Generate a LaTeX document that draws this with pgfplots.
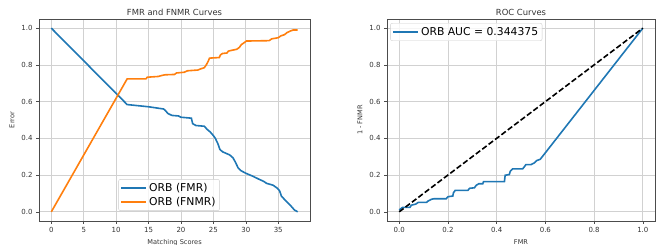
\documentclass[border=0pt]{standalone}
\usepackage{pgfplots}
\pgfplotsset{compat=1.18}
\usepackage{fontspec}
\setmainfont{DejaVu Sans}
\definecolor{mblue}{HTML}{1F77B4}
\definecolor{morange}{HTML}{FF7F0E}
\definecolor{tickgray}{HTML}{333333}
\pgfplotsset{
  mpl/.style={
    scale only axis,
    axis line style={draw=black!70, line width=0.6pt},
    grid=major,
    major grid style={draw=black!18, line width=0.7pt},
    tick align=outside, tick pos=left,
    major tick length=3pt,
    every tick/.style={draw=black!70, line width=0.6pt},
    tick label style={font=\fontsize{7}{7}\selectfont, text=tickgray},
    /pgf/number format/assume math mode=true,
    label style={font=\fontsize{6.6}{7}\selectfont, text=tickgray},
    title style={font=\fontsize{8.4}{9}\selectfont, text=tickgray, yshift=-6.5pt},
    legend style={font=\fontsize{10.8}{12}\selectfont, draw=black!20, rounded corners=2pt, fill=white, fill opacity=0.8, text opacity=1, inner sep=2pt, row sep=0pt},
    legend cell align=left,
    legend image code/.code={\draw[#1, line width=1.6pt] (0pt,0pt) -- (25pt,0pt);},
    ymin=-0.05, ymax=1.05,
    ytick={0,0.2,...,1.0},
    yticklabel style={/pgf/number format/.cd, fixed, fixed zerofill, precision=1},
  }
}
\begin{document}
\begin{tikzpicture}
\path[use as bounding box] (0,0) rectangle (661pt,245pt);
\begin{axis}[mpl,
  at={(39pt,24pt)}, anchor=south west,
  width=271pt, height=202pt,
  xmin=-1.9, xmax=39.9,
  xtick={0,5,...,35},
  title={FMR and FNMR Curves},
  xlabel={Matching Scores}, ylabel={Error},
  legend style={at={(0.48,0.05)}, anchor=south},
]
\addplot[mblue, line width=1.6pt] coordinates {
(0,1) (11.7,0.584) (15,0.572) (17.3,0.56) (17.5,0.555) (18,0.535) (18.6,0.525) (19.6,0.522) (20,0.515) (21.6,0.51) (21.8,0.48) (22.3,0.47) (23.6,0.466) (24,0.45) (24.5,0.435) (25,0.415) (25.3,0.40) (25.7,0.37) (26,0.34) (26.4,0.327) (27.5,0.31) (28,0.295) (28.4,0.27) (28.8,0.24) (29.2,0.225) (30,0.21) (31,0.195) (32,0.178) (32.8,0.165) (33.2,0.155) (34.2,0.145) (34.8,0.13) (35.2,0.115) (35.5,0.085) (35.9,0.07) (36.3,0.055) (36.6,0.045) (37,0.03) (37.5,0.01) (38,0.0)
};
\addlegendentry{ORB (FMR)}
\addplot[morange, line width=1.6pt] coordinates {
(0,0) (11.7,0.724) (14.6,0.724) (14.8,0.733) (16.5,0.737) (17,0.742) (17.5,0.746) (19,0.748) (19.3,0.756) (20.5,0.76) (21,0.768) (22.6,0.772) (23,0.778) (23.6,0.785) (23.9,0.80) (24.2,0.82) (24.4,0.837) (25.9,0.84) (26.1,0.855) (26.4,0.862) (27.1,0.865) (27.3,0.875) (27.9,0.88) (28.6,0.885) (29,0.895) (29.3,0.91) (29.7,0.92) (30.1,0.93) (33.6,0.932) (34,0.942) (35,0.948) (35.4,0.958) (36,0.965) (36.3,0.975) (36.9,0.985) (37.3,0.99) (38,0.99)
};
\addlegendentry{ORB (FNMR)}
\end{axis}
\begin{axis}[mpl,
  at={(387pt,24pt)}, anchor=south west,
  width=268pt, height=202pt,
  xmin=-0.05, xmax=1.05,
  xtick={0,0.2,...,1.0},
  xticklabel style={/pgf/number format/.cd, fixed, fixed zerofill, precision=1},
  title={ROC Curves},
  xlabel={FMR}, ylabel={1 - FNMR},
  legend style={at={(0.012,0.98)}, anchor=north west},
]
\addplot[mblue, line width=1.6pt] coordinates {
(0,0.01) (0.014,0.024) (0.044,0.024) (0.05,0.036) (0.068,0.042) (0.078,0.051) (0.112,0.051) (0.118,0.058) (0.132,0.068) (0.142,0.071) (0.193,0.071) (0.2,0.082) (0.22,0.086) (0.223,0.104) (0.23,0.117) (0.282,0.117) (0.289,0.128) (0.309,0.131) (0.316,0.144) (0.327,0.153) (0.343,0.153) (0.346,0.164) (0.432,0.164) (0.435,0.199) (0.452,0.203) (0.456,0.221) (0.466,0.234) (0.507,0.234) (0.514,0.246) (0.52,0.257) (0.541,0.257) (0.554,0.266) (0.564,0.279) (0.579,0.286) (1,1)
};
\addlegendentry{ORB AUC = 0.344375}
\addplot[black, line width=1.6pt, dash pattern=on 5.5pt off 2.5pt, forget plot] coordinates {(0,0) (1,1)};
\end{axis}
\end{tikzpicture}
\end{document}
